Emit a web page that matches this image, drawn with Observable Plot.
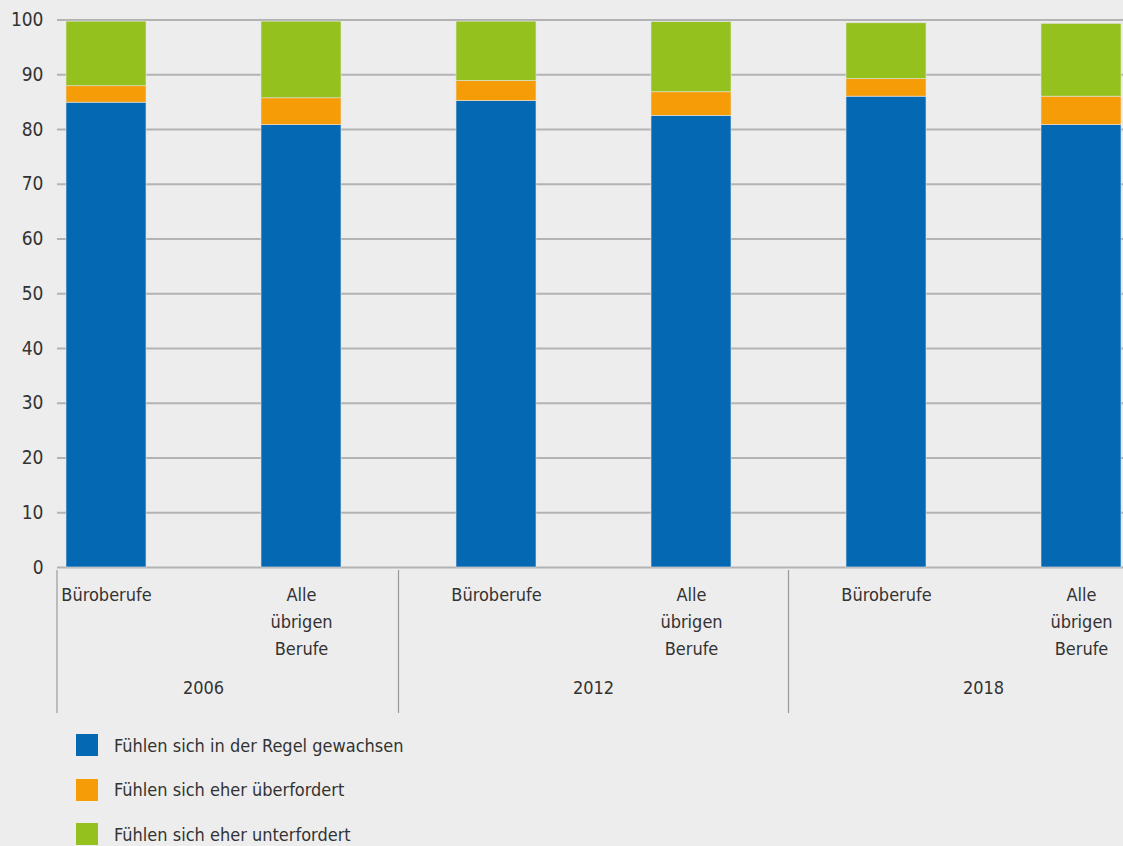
<!DOCTYPE html>
<html><head><meta charset="utf-8">
<script src="https://cdn.jsdelivr.net/npm/d3@7"></script>
<script src="https://cdn.jsdelivr.net/npm/@observablehq/plot@0.6"></script>
<style>
body{margin:0;background:#ededed;font-family:"Liberation Sans Narrow","DejaVu Sans Condensed",sans-serif;}
#wrap{position:relative;width:1123px;height:846px;overflow:hidden;}
#legend{position:absolute;left:76px;top:723px}
.item{display:flex;align-items:center;height:44.5px;font-size:18px;color:#333}
.sw{width:22px;height:22px;margin-right:16px;flex:none}
</style></head><body>
<div id="wrap"><div id="chart"></div><div id="legend"></div></div>
<script>
const years = ["2006","2012","2018"];
const groups = ["Büroberufe","Alle übrigen Berufe"];
const groupLabels = ["Büroberufe","Alle\nübrigen\nBerufe"];
const series = ["Fühlen sich in der Regel gewachsen","Fühlen sich eher überfordert","Fühlen sich eher unterfordert"];
const colors = ["#0568b3","#f59c07","#95c11f"];
// order: 2006 Büro, 2006 Alle, 2012 Büro, 2012 Alle, 2018 Büro, 2018 Alle
const gewachsen    = [84.9, 80.8, 85.2, 82.5, 86.0, 80.8];
const ueberfordert = [3.0, 4.9, 3.65, 4.3, 3.2, 5.2];
const unterfordert = [11.8, 14.0, 10.85, 12.8, 10.2, 13.3];
const yTicks = [0,10,20,30,40,50,60,70,80,90,100];

const font = '"Liberation Sans Narrow","DejaVu Sans Condensed",sans-serif';
const cats = [];
years.forEach(y => groups.forEach((g, j) => cats.push({year: y, group: g, key: y + "|" + g, label: groupLabels[j]})));
const keys = cats.map(d => d.key);
const valuesBySeries = [gewachsen, ueberfordert, unterfordert];
const rows = [];
series.forEach((s, si) => cats.forEach((c, i) => rows.push({key: c.key, series: s, value: valuesBySeries[si][i]})));

const plot = Plot.plot({
  width: 1123, height: 720,
  marginLeft: 57, marginRight: 0, marginTop: 19.5, marginBottom: 153,
  style: {background: "transparent", fontFamily: font, fontSize: "18px", color: "#333", overflow: "visible"},
  x: {domain: keys, range: [8.5, 1178.5], paddingInner: 0.59, paddingOuter: 0.295, axis: null},
  y: {domain: [0, 100], axis: null},
  color: {domain: series, range: colors},
  marks: [
    Plot.ruleY(yTicks, {y: d => d, stroke: "#b3b3b3", strokeWidth: 2}),
    Plot.barY(rows, {x: "key", y: "value", fill: "series", stroke: "#e4e4e4", strokeWidth: 0.6}),
    Plot.axisY(yTicks, {tickSize: 0, tickPadding: 14, fontSize: 19, label: null, fill: "#333"}),
    Plot.text(cats, {x: "key", text: "label", frameAnchor: "bottom", lineAnchor: "top", dy: 14, lineHeight: 1.5, fontSize: 18, fill: "#333"})
  ]
});
document.getElementById("chart").appendChild(plot);

// group labels and separators, positioned through the plot's own scales
const xs = plot.scale("x"), ys = plot.scale("y");
const svg = d3.select(plot);
const y0 = ys.apply(0);
const gap = xs.step - xs.bandwidth;
const seps = [57];
years.forEach((yr, i) => {
  const k1 = yr + "|" + groups[0], k2 = yr + "|" + groups[1];
  const left = xs.apply(k1) - gap / 2;
  const right = xs.apply(k2) + xs.bandwidth + gap / 2;
  svg.append("text").attr("x", (left + right) / 2).attr("y", y0 + 121).attr("dy", "0.35em")
    .attr("text-anchor", "middle").attr("font-size", 18).attr("fill", "#333").attr("font-family", font).text(yr);
  if (i > 0) seps.push(left);
});
seps.forEach(x => svg.append("line").attr("x1", x).attr("x2", x).attr("y1", y0 + 3).attr("y2", y0 + 146)
  .attr("stroke", "#9a9a9a").attr("stroke-width", 1.2));

// legend
const lg = d3.select("#legend");
series.forEach((s, i) => {
  const it = lg.append("div").attr("class", "item");
  it.append("div").attr("class", "sw").style("background", colors[i]);
  it.append("span").text(s);
});
</script></body></html>
